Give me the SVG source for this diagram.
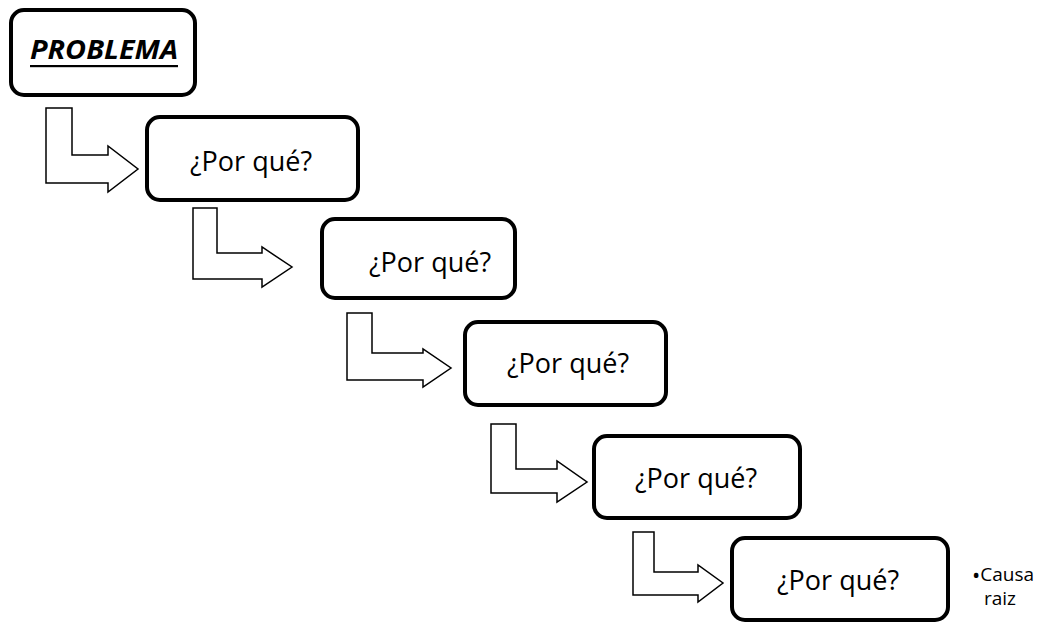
<svg xmlns="http://www.w3.org/2000/svg" width="1052" height="623" viewBox="0 0 1052 623">
  <style>
    .box { fill: #ffffff; stroke: #000000; stroke-width: 4; }
    .arrow { fill: #ffffff; stroke: #000000; stroke-width: 1.5; stroke-linejoin: miter; }
    .why { font-family: "Open Sans", "Noto Sans", sans-serif; font-size: 27px; fill: #000000; text-anchor: middle; }
    .title { font-family: "Open Sans", "Noto Sans", sans-serif; font-size: 27px; font-weight: bold; font-style: italic; fill: #000000; }
    .note { font-family: "Open Sans", "Noto Sans", sans-serif; font-size: 19px; fill: #000000; }
  </style>
  <rect width="1052" height="623" fill="#ffffff"/>

  <!-- bent block arrows leading down the chain -->
  <g id="connectors">
    <path class="arrow" d="M46,108 L72,108 L72,155 L108,155 L108,146 L138,169 L108,192 L108,183 L46,183 Z"/>
    <path class="arrow" d="M193,208 L217,208 L217,253 L262,253 L262,247 L292,267 L262,287 L262,279 L193,279 Z"/>
    <path class="arrow" d="M347,313 L372,313 L372,353 L423,353 L423,349 L451,368 L423,387 L423,380 L347,380 Z"/>
    <path class="arrow" d="M491,424 L516,424 L516,469 L557,469 L557,461 L587,482 L557,502 L557,493 L491,493 Z"/>
    <path class="arrow" d="M633,532 L654,532 L654,572 L698,572 L698,565 L723,583 L698,602 L698,595 L633,595 Z"/>
  </g>

  <g id="problema">
    <rect class="box" x="11" y="10" width="184" height="85" rx="13"/>
    <text class="title" x="30" y="59" textLength="148" lengthAdjust="spacingAndGlyphs">PROBLEMA</text>
    <rect x="30" y="65" width="148" height="2.2" fill="#000000"/>
  </g>

  <g id="why1">
    <rect class="box" x="147" y="117" width="211" height="83" rx="13"/>
    <text class="why" x="251" y="171">¿Por qué?</text>
  </g>

  <g id="why2">
    <rect class="box" x="322" y="219" width="193" height="79" rx="13"/>
    <text class="why" x="430" y="272">¿Por qué?</text>
  </g>

  <g id="why3">
    <rect class="box" x="465" y="322" width="201" height="83" rx="13"/>
    <text class="why" x="568" y="373">¿Por qué?</text>
  </g>

  <g id="why4">
    <rect class="box" x="594" y="436" width="206" height="82" rx="13"/>
    <text class="why" x="696" y="488">¿Por qué?</text>
  </g>

  <g id="why5">
    <rect class="box" x="732" y="538" width="216" height="82" rx="13"/>
    <text class="why" x="838" y="590">¿Por qué?</text>
  </g>

  <g id="causa-raiz">
    <text class="note" x="972" y="581"><tspan font-size="22px" dy="2">•</tspan><tspan dy="-2">Causa</tspan></text>
    <text class="note" x="984" y="605">raiz</text>
  </g>
</svg>
